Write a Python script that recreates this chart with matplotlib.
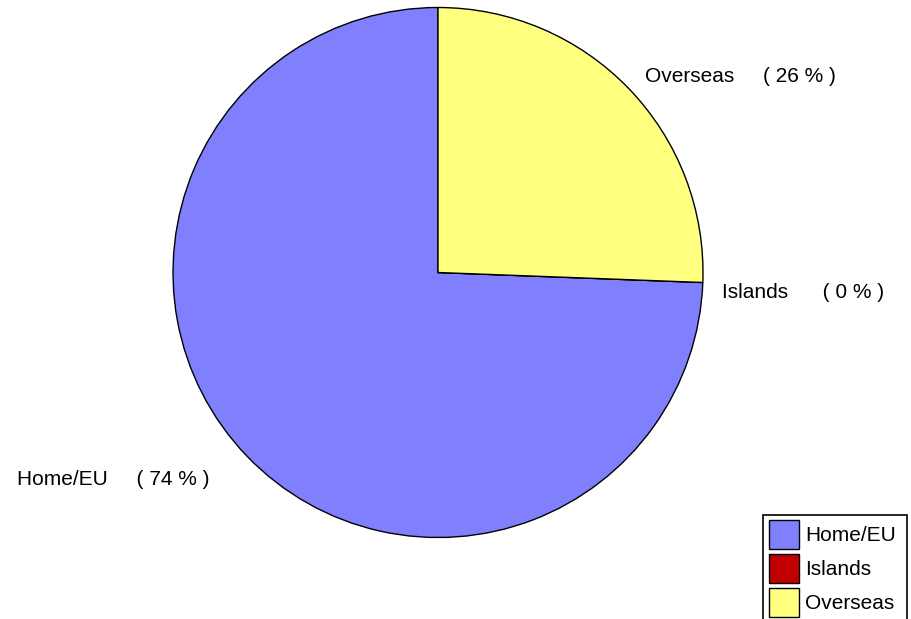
import matplotlib
matplotlib.use("Agg")
import matplotlib.pyplot as plt
import matplotlib.patches as mpatches

plt.rcParams['font.family'] = ['Liberation Sans', 'DejaVu Sans']

categories = ["Home/EU", "Islands", "Overseas"]
shares = [74.4, 0.0, 25.6]
colors = ["#8080FF", "#C00000", "#FFFF80"]
label_pos = [(-1.587, -0.802), (1.072, -0.096), (0.781, 0.719)]
label_gap = [5, 6, 5]

W, H = 911, 619
fig = plt.figure(figsize=(W / 100, H / 100), dpi=100)
ax = fig.add_axes([173 / W, 81.5 / H, 530 / W, 530 / H])

wedges, _ = ax.pie(shares, colors=colors, startangle=90, counterclock=True,
                   wedgeprops=dict(edgecolor="black", linewidth=1.0),
                   normalize=True)
ax.set_xlim(-1, 1)
ax.set_ylim(-1, 1)

total = sum(shares)
for name, val, (x, y), gap in zip(categories, shares, label_pos, label_gap):
    pct = round(100 * val / total)
    ax.text(x, y, name + " " * gap + f"( {pct} % )", ha="left", va="baseline",
            fontsize=15, clip_on=False)

# legend, frame drawn separately (it runs off the bottom edge)
leg = fig.legend(wedges, categories, loc="upper left",
                 bbox_to_anchor=(769 / W, 1 - 520 / H),
                 fontsize=15, frameon=False,
                 handlelength=1.43, handleheight=1.77, handletextpad=0.3,
                 labelspacing=0.24, borderpad=0, borderaxespad=0)
frame = mpatches.Rectangle((763 / W, -0.05), (907 - 763) / W, 0.05 + (619 - 515) / H,
                           transform=fig.transFigure, fill=False,
                           edgecolor="black", linewidth=1.2)
fig.patches.append(frame)

fig.savefig("out.png", dpi=100)
